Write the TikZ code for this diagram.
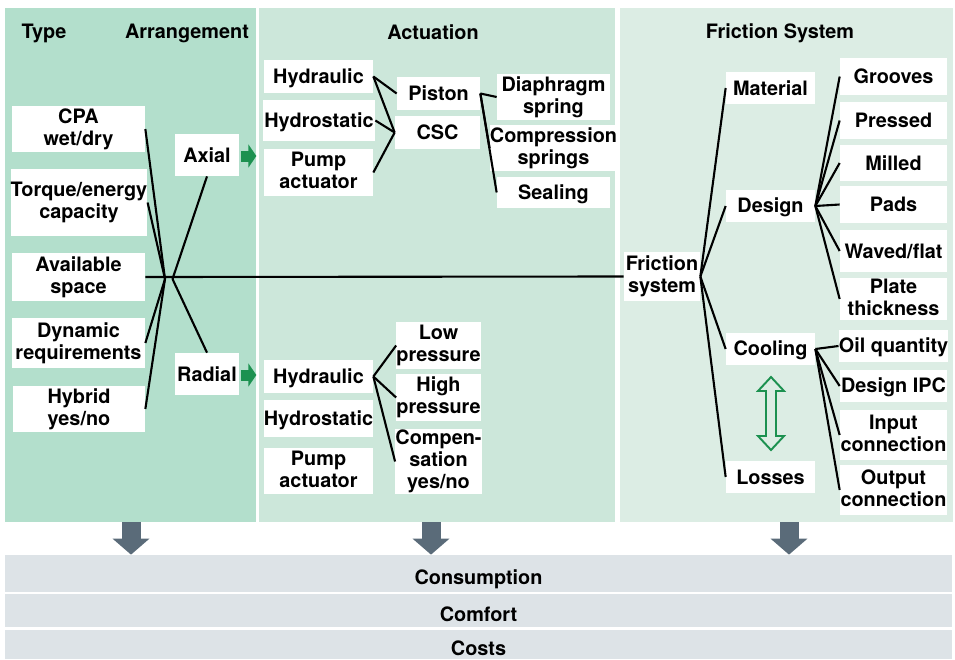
\documentclass[tikz,border=0pt]{standalone}
\usepackage{fontspec}
\setmainfont{TeX Gyre Heros}
\usetikzlibrary{arrows.meta, positioning, calc}

\definecolor{panelA}{HTML}{B3DFCC}
\definecolor{panelB}{HTML}{CCE7DA}
\definecolor{panelC}{HTML}{DCEDE4}
\definecolor{barGray}{HTML}{DDE3E7}
\definecolor{arrowGray}{HTML}{5A6B79}
\definecolor{arrowGreen}{HTML}{1C9150}

\begin{document}
\begin{tikzpicture}[
    x=0.02cm, y=-0.02cm,
    font=\fontsize{11.3}{12.6}\selectfont\bfseries,
    sz/.style 2 args={minimum width=#1*0.02cm, minimum height=#2*0.02cm},
    text strut/.style={execute at begin node={\rule{0pt}{#1}},
                       execute at end node={\rule[-0.2em]{0pt}{0pt}}},
    box/.style={fill=white, inner sep=0pt, align=center, text strut=0.92em},
    panel/.style={inner sep=0pt, draw=none},
    title/.style={anchor=center, text strut=0.92em},
    bar/.style={fill=barGray, inner sep=0pt, sz={947}{#1}, text strut=1.28em},
    link/.style={line width=1.2pt},
    fwd/.style={line width=0.22cm, arrowGreen,
                -{Triangle[length=0.16cm, width=0.46cm]}},
    down/.style={line width=0.38cm, arrowGray,
                 -{Triangle[length=0.32cm, width=0.72cm]}}
  ]
  \useasboundingbox (0,0) rectangle (955,659);

  % panels
  \node[panel, fill=panelA, sz={251}{514}] (pA) at (130.5,265) {};
  \node[panel, fill=panelB, sz={356}{514}] (pB) at (437,265) {};
  \node[panel, fill=panelC, sz={333}{514}] (pC) at (786,265) {};

  \node[title] (tType) at (44,32) {Type};
  \node[title] (tArr) at (187,32) {Arrangement};
  \node[title] (tAct) at (433,32) {Actuation};
  \node[title] (tFric) at (780,32) {Friction System};

  % type / arrangement
  \node[box, sz={133}{46}] (cpa) at (78.5,129) {CPA\\wet/dry};
  \node[box, sz={132}{67}] (torque) at (79,202.5) {Torque/energy\\capacity};
  \node[box, sz={133}{48}] (space) at (78.5,277) {Available\\space};
  \node[box, sz={133}{50}] (dyn) at (78.5,343) {Dynamic\\requirements};
  \node[box, sz={132}{46}] (hybrid) at (79,409) {Hybrid\\yes/no};
  \node[box, sz={64}{42}] (axial) at (207,155) {Axial};
  \node[box, sz={64}{42}] (radial) at (207,374) {Radial};

  \coordinate (hubL) at (165,279);
  \coordinate (hubR) at (172.5,279);
  \foreach \n in {cpa, torque, dyn, hybrid}
    \draw[link] (\n.east) -- (hubL);
  \draw[link] (axial.south) -- (hubR);
  \draw[link] (radial.north) -- (hubR);

  % actuation, axial
  \node[box, sz={109}{33}] (hydA) at (318.5,76.5) {Hydraulic};
  \node[box, sz={112}{41}] (hstA) at (319,120.5) {Hydrostatic};
  \node[box, sz={109}{47}] (pumpA) at (318.5,172.5) {Pump\\actuator};
  \node[box, sz={83}{33}] (piston) at (438.5,93.5) {Piston};
  \node[box, sz={85}{33}] (csc) at (437.5,132.5) {CSC};
  \node[box, sz={113}{46}] (diaph) at (553.5,97) {Diaphragm\\spring};
  \node[box, sz={113}{46}] (compr) at (553.5,148) {Compression\\springs};
  \node[box, sz={113}{31}] (seal) at (553.5,192.5) {Sealing};

  \draw[link] (hydA.east) -- (piston.west);
  \foreach \n in {hydA, hstA, pumpA}
    \draw[link] (\n.east) -- (csc.west);
  \foreach \n in {diaph, compr, seal}
    \draw[link] (piston.east) -- (\n.west);

  % actuation, radial
  \node[box, sz={109}{33}] (hydB) at (318.5,376.5) {Hydraulic};
  \node[box, sz={109}{37}] (hstB) at (318.5,418.5) {Hydrostatic};
  \node[box, sz={109}{46}] (pumpB) at (318.5,471) {Pump\\actuator};
  \node[box, sz={83}{47}] (low) at (438.5,345.5) {Low\\pressure};
  \node[box, sz={83}{47}] (high) at (438.5,397.5) {High\\pressure};
  \node[box, sz={83}{65}] (comp) at (438.5,461.5) {Compen-\\sation\\yes/no};

  \foreach \n in {low, high, comp}
    \draw[link] (hydB.east) -- (\n.west);

  \draw[fwd] ($(axial.east)+(2,1)$) -- ++(15,0);
  \draw[fwd] ($(radial.east)+(2,1)$) -- ++(15,0);

  % friction system
  \node[box, sz={76}{49}] (fric) at (662,276.5) {Friction\\system};
  \node[box, sz={89}{32}] (material) at (770.5,88) {Material};
  \node[box, sz={89}{32}] (design) at (770.5,206) {Design};
  \node[box, sz={89}{32}] (cooling) at (770.5,349) {Cooling};
  \node[box, sz={89}{32}] (losses) at (770.5,477) {Losses};

  \node[box, sz={107}{37}] (grooves) at (893.5,76.5) {Grooves};
  \node[box, sz={107}{37}] (pressed) at (893.5,120.5) {Pressed};
  \node[box, sz={107}{36}] (milled) at (893.5,163) {Milled};
  \node[box, sz={107}{37}] (pads) at (893.5,204.5) {Pads};
  \node[box, sz={107}{42}] (waved) at (893.5,251) {Waved/flat};
  \node[box, sz={107}{42}] (plate) at (893.5,299) {Plate\\thickness};
  \node[box, sz={107}{32}] (oil) at (893.5,346) {Oil quantity};
  \node[box, sz={107}{32}] (dipc) at (893.5,386) {Design IPC};
  \node[box, sz={107}{50}] (input) at (893.5,435) {Input\\connection};
  \node[box, sz={107}{50}] (output) at (893.5,490) {Output\\connection};

  \draw[link] (space.east) -- (fric.west);
  \foreach \n in {material, design, cooling, losses}
    \draw[link] (fric.east) -- (\n.west);
  \foreach \n in {grooves, pressed, milled, pads, waved, plate}
    \draw[link] (design.east) -- (\n.west);
  \foreach \n in {oil, dipc, input, output}
    \draw[link] (cooling.east) -- (\n.west);

  % cooling <-> losses
  \draw[arrowGreen, line width=1.1pt, fill=panelC, line join=miter]
    (771,377) -- (784,391) -- (776,391) -- (776,436) -- (784,436)
    -- (771,450) -- (758,436) -- (766,436) -- (766,391) -- (758,391) -- cycle;

  % results
  \node[bar=37] (cons) at (478.5,573.5) {Consumption};
  \node[bar=33] (comf) at (478.5,610.5) {Comfort};
  \node[bar=29] (costs) at (478.5,644.5) {Costs};

  \foreach \x in {131, 431, 789} {
    \coordinate (top\x) at (\x,522);
    \draw[down] (top\x) -- (top\x |- cons.north);
  }
\end{tikzpicture}
\end{document}
